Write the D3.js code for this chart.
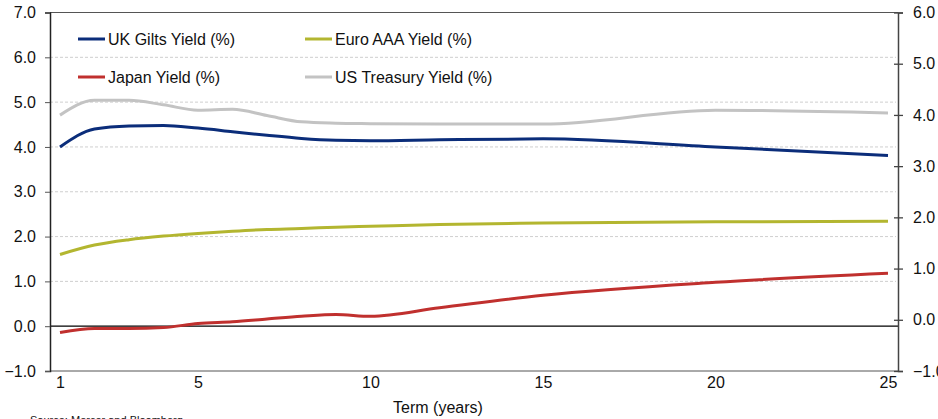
<!DOCTYPE html>
<html>
<head>
<meta charset="utf-8">
<script src="https://cdn.jsdelivr.net/npm/d3@7"></script>
<style>
  html, body { margin: 0; padding: 0; background: #fff; }
  svg { display: block; }
  text { font-family: "Liberation Sans", Arial, sans-serif; fill: #111; }
</style>
</head>
<body>
<svg id="chart" width="938" height="419"></svg>
<script>
// Term structure (years) and yields (%) by market
const terms = [1, 2, 3, 4, 5, 6, 7, 8, 9, 10, 12, 15, 20, 25];
const ukGilts = [4.00, 4.40, 4.47, 4.48, 4.42, 4.34, 4.26, 4.19, 4.15, 4.14, 4.16, 4.18, 4.00, 3.81];
const euroAAA = [1.60, 1.81, 1.93, 2.01, 2.07, 2.12, 2.16, 2.18, 2.21, 2.23, 2.27, 2.30, 2.33, 2.34];
const japan = [-0.14, -0.05, -0.05, -0.03, 0.06, 0.10, 0.16, 0.22, 0.26, 0.22, 0.41, 0.69, 0.98, 1.18];
const usTreasury = [4.71, 5.04, 5.04, 4.94, 4.82, 4.84, 4.70, 4.56, 4.53, 4.52, 4.51, 4.51, 4.82, 4.76];

const xTicks = [1, 5, 10, 15, 20, 25];
const leftTicks = [-1, 0, 1, 2, 3, 4, 5, 6, 7];
const rightTicks = [-1, 0, 1, 2, 3, 4, 5, 6];

const seriesNames = ["UK Gilts Yield (%)", "Euro AAA Yield (%)", "Japan Yield (%)", "US Treasury Yield (%)"];
const seriesColors = ["#0b2d7a", "#b3b630", "#c0302e", "#c3c3c3"];
const seriesValues = [ukGilts, euroAAA, japan, usTreasury];

const svg = d3.select("#chart");
const plot = { left: 50, right: 898, top: 12.5, bottom: 371 };

const x = d3.scaleLinear().domain([1, 25]).range([60, 888]);
const yL = d3.scaleLinear().domain([-1, 7]).range([plot.bottom, plot.top]);
const yR = d3.scaleLinear().domain([-1, 6]).range([plot.bottom, plot.top]);

// dashed horizontal gridlines on the left scale
svg.append("g")
  .selectAll("line")
  .data(leftTicks.filter(v => v > 0 && v < 7))
  .join("line")
  .attr("x1", plot.left).attr("x2", plot.right - 2)
  .attr("y1", d => yL(d)).attr("y2", d => yL(d))
  .attr("stroke", "#cfcfcf").attr("stroke-width", 1)
  .attr("stroke-dasharray", "3,2");

// top and bottom frame
svg.append("line").attr("x1", plot.left).attr("x2", plot.right)
  .attr("y1", plot.top).attr("y2", plot.top)
  .attr("stroke", "#555").attr("stroke-width", 1);
svg.append("line").attr("x1", plot.left).attr("x2", plot.right)
  .attr("y1", plot.bottom).attr("y2", plot.bottom)
  .attr("stroke", "#555").attr("stroke-width", 1);

// zero line
svg.append("line").attr("x1", plot.left).attr("x2", plot.right)
  .attr("y1", yL(0)).attr("y2", yL(0))
  .attr("stroke", "#000").attr("stroke-width", 1.2);

// left axis
const leftAxis = svg.append("g")
  .attr("transform", `translate(${plot.left},0)`)
  .call(d3.axisLeft(yL).tickValues(leftTicks).tickFormat(d3.format(".1f")).tickSize(5).tickPadding(9));
leftAxis.select(".domain").attr("stroke", "#222").attr("stroke-width", 1.5);
leftAxis.selectAll(".tick line").attr("stroke", "#555");
leftAxis.selectAll("text").attr("font-size", 16).attr("fill", "#111")
  .style("font-family", "'Liberation Sans', Arial, sans-serif");

// right axis
const rightAxis = svg.append("g")
  .attr("transform", `translate(${plot.right},0)`)
  .call(d3.axisRight(yR).tickValues(rightTicks).tickFormat(d3.format(".1f")).tickSize(5).tickPadding(10));
rightAxis.select(".domain").attr("stroke", "#444").attr("stroke-width", 1.5);
rightAxis.selectAll(".tick line").attr("stroke", "#444").attr("x1", -4).attr("stroke-width", 1.3);
rightAxis.selectAll("text").attr("font-size", 16).attr("fill", "#111")
  .style("font-family", "'Liberation Sans', Arial, sans-serif");

// bottom axis labels
const bottomAxis = svg.append("g")
  .attr("transform", `translate(0,${plot.bottom})`)
  .call(d3.axisBottom(x).tickValues(xTicks).tickFormat(d3.format("d")).tickSize(0).tickPadding(6));
bottomAxis.select(".domain").remove();
bottomAxis.selectAll("text").attr("font-size", 16).attr("fill", "#111")
  .style("font-family", "'Liberation Sans Narrow', 'Liberation Sans', Arial, sans-serif");

svg.append("text")
  .attr("x", 438).attr("y", 413)
  .attr("text-anchor", "middle")
  .attr("font-size", 16)
  .style("font-family", "'Liberation Sans Narrow', 'Liberation Sans', Arial, sans-serif")
  .text("Term (years)");

svg.append("text")
  .attr("x", 30).attr("y", 424)
  .attr("font-size", 11)
  .style("font-family", "'Liberation Sans Narrow', 'Liberation Sans', Arial, sans-serif")
  .text("Source: Mercer and Bloomberg");

// yield curves
const line = d3.line()
  .x(d => x(d.t))
  .y(d => yL(d.v))
  .curve(d3.curveMonotoneX);

const drawOrder = [3, 1, 2, 0];
drawOrder.forEach(i => {
  const pts = terms.map((t, k) => ({ t, v: seriesValues[i][k] }));
  svg.append("path")
    .datum(pts)
    .attr("d", line)
    .attr("fill", "none")
    .attr("stroke", seriesColors[i])
    .attr("stroke-width", 3)
    .attr("stroke-linejoin", "round");
});

// legend, two columns by two rows
const legendPos = [[78, 39], [305, 39], [78, 77], [305, 77]];
seriesNames.forEach((name, i) => {
  const [lx, ly] = legendPos[i];
  const g = svg.append("g").attr("transform", `translate(${lx},${ly})`);
  g.append("line").attr("x1", 0).attr("x2", 27).attr("y1", 0).attr("y2", 0)
    .attr("stroke", seriesColors[i]).attr("stroke-width", 3);
  g.append("text").attr("x", 30).attr("y", 0).attr("dy", "0.35em")
    .attr("font-size", 16).text(name);
});
</script>
</body>
</html>
